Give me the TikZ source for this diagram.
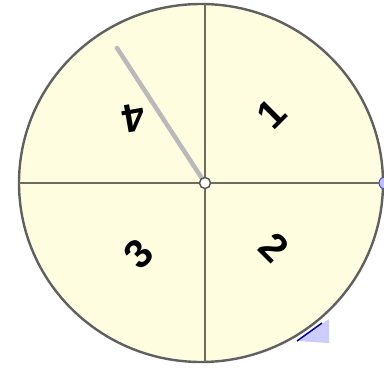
\documentclass[tikz,border=0pt]{standalone}
\usepackage{fontspec}
\setmainfont{Liberation Sans}
\begin{document}
\begin{tikzpicture}[x=1pt,y=-1pt,
  divline/.style={draw=gray!80!olive!70!black, line width=2.6pt},
  rim/.style={draw=gray!75!black, line width=2.4pt, fill=yellow!12},
  num/.style={font=\bfseries\fontsize{40}{40}\selectfont, text=black, inner sep=0pt},
  pointer/.style={draw=gray!55, line width=4.5pt, line cap=round},
  hubstyle/.style={circle, draw=gray!70!black, fill=white, line width=1.5pt, minimum size=11pt, inner sep=0pt},
  handle/.style={circle, draw=blue!40!gray, fill=blue!25, line width=1pt, minimum size=12pt, inner sep=0pt}]
\useasboundingbox (0,0) rectangle (384,368);
\fill[white] (0,0) rectangle (384,368);
% wheel
\draw[rim] (201,183) ellipse [x radius=182, y radius=179];
\coordinate (top) at (205,4);
\coordinate (bot) at (205,362);
\coordinate (lft) at (19,183);
\coordinate (rgt) at (383,183);
\coordinate (tip) at (117,48);
\coordinate (c) at (205,183);
\draw[divline] (top) -- (bot);
\draw[divline] (lft) -- (rgt);
% numbers
\node[num, rotate=45] (n1) at (272,114) {1};
\node[num, rotate=-45] (n2) at (274,247) {2};
\node[num, rotate=45] (n3) at (139,254) {3};
\node[num, rotate=190] (n4) at (134,118) {4};
% pointer
\draw[pointer] (c) -- (tip);
\node[hubstyle] (hub) at (c) {};
% blue handle and corner
\node[handle] (h) at (385,183) {};
\fill[blue!20] (297,341) -- (329,319) -- (329,343) -- cycle;
\draw[blue!60!black, line width=1.5pt] (297,341) -- (322,323);
\end{tikzpicture}
\end{document}
